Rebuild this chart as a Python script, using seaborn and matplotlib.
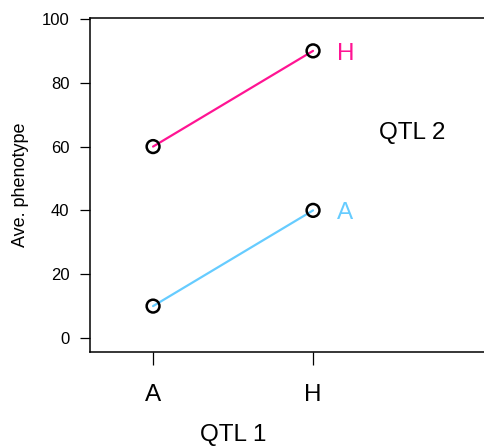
import matplotlib
matplotlib.use("Agg")
import matplotlib.pyplot as plt
import matplotlib.transforms as mtransforms
import seaborn as sns
import pandas as pd

# Genotype means for a two-locus interaction plot
qtl1_genotypes = ["A", "H"]
qtl2_genotypes = ["A", "H"]
means_qtl2_A = [10, 40]
means_qtl2_H = [60, 90]
line_colors = {"A": "#66CCFF", "H": "#FF1493"}

rows = []
for g2, vals in zip(qtl2_genotypes, [means_qtl2_A, means_qtl2_H]):
    for i, (g1, v) in enumerate(zip(qtl1_genotypes, vals)):
        rows.append({"qtl1": g1, "pos": i + 1, "qtl2": g2, "phenotype": v})
df = pd.DataFrame(rows)

sns.set_style("white")
plt.rcParams["font.family"] = ["Liberation Sans", "DejaVu Sans"]
plt.rcParams["text.color"] = "black"
plt.rcParams["axes.labelcolor"] = "black"

fig = plt.figure(figsize=(4.85, 4.46), dpi=100)
ax = fig.add_axes([90.5 / 485, 1 - 351.5 / 446, (486 - 90.5) / 485, (351.5 - 18) / 446])

sns.lineplot(data=df, x="pos", y="phenotype", hue="qtl2", palette=line_colors,
             linewidth=1.6, legend=False, ax=ax)
sns.scatterplot(data=df, x="pos", y="phenotype", marker="o", s=85,
                facecolor="none", edgecolor="black", linewidth=1.8,
                legend=False, ax=ax, zorder=3)

# nudge centred text down slightly so the capitals sit on the centre line
down = mtransforms.ScaledTranslation(0, -3 / 100, fig.dpi_scale_trans)

# Label each QTL 2 line at its right end
for g2, vals in zip(qtl2_genotypes, [means_qtl2_A, means_qtl2_H]):
    ax.text(2.15, vals[-1], g2, color=line_colors[g2], fontsize=17.5,
            ha="left", va="center", transform=ax.transData + down)
ax.text(2.62, 65.2, "QTL 2", fontsize=17.5, ha="center", va="center",
        transform=ax.transData + down)

ax.set_xlim(0.609, 3.081)
ax.set_ylim(-4.23, 100.3)
ax.set_xticks([1, 2])
ax.set_xticklabels(qtl1_genotypes)
ax.set_yticks([0, 20, 40, 60, 80, 100])

for s in ["left", "bottom", "top"]:
    ax.spines[s].set_visible(True)
    ax.spines[s].set_color("black")
    ax.spines[s].set_linewidth(1.1)
ax.spines["right"].set_visible(False)

ax.tick_params(axis="y", direction="out", length=7.2, width=0.9, pad=8,
               labelsize=12, left=True, colors="black")
ax.tick_params(axis="x", direction="out", length=9.4, width=0.9, pad=14,
               labelsize=17.5, bottom=True, colors="black")

ax.set_xlabel("")
ax.set_ylabel("Ave. phenotype", fontsize=13, labelpad=9)

# x-axis title centred between the two genotype positions
trans = mtransforms.blended_transform_factory(ax.transData, fig.transFigure)
ax.text(1.5, 1 - 435 / 446, "QTL 1", fontsize=17.5, ha="center", va="center",
        transform=trans)

fig.savefig("out.png", dpi=100)
